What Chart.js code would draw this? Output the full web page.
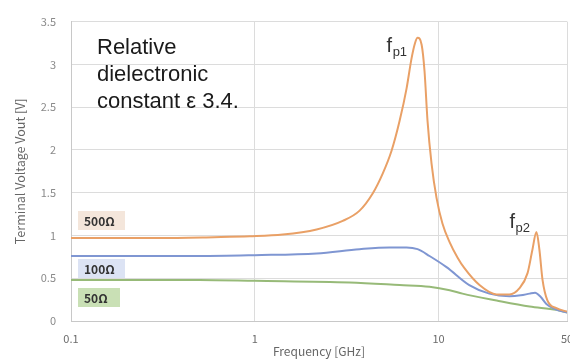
<!DOCTYPE html>
<html>
<head>
<meta charset="utf-8">
<script src="https://cdn.jsdelivr.net/npm/chart.js@4.4.1/dist/chart.umd.min.js"></script>
<style>
  html, body { margin: 0; padding: 0; background: #ffffff; overflow: hidden; }
  #wrap { width: 570px; height: 363px; }
</style>
</head>
<body>
<div id="wrap"><canvas id="c" width="570" height="363"></canvas></div>
<script>
// ---- data ----
const xTickValues = [0.1, 1, 10, 50];
const yTickValues = [0, 0.5, 1, 1.5, 2, 2.5, 3, 3.5];

const seriesNames = ['500\u03A9', '100\u03A9', '50\u03A9'];

const freq500 = [0.1, 0.3, 0.6, 0.94, 1.42, 2.17, 3.01, 3.72, 4.38, 4.96, 5.55, 6.14, 6.70, 7.13, 7.45, 7.69, 8.09, 8.39, 8.71, 9.16, 9.75, 10.5, 11.5, 12.7, 13.8, 16.7, 20.7, 24.3, 27.5, 30.5, 32.4, 34.1, 35.4, 36.8, 39.1, 43.8, 50];
const volt500 = [0.97, 0.97, 0.98, 0.99, 1.01, 1.07, 1.17, 1.29, 1.49, 1.72, 1.99, 2.34, 2.72, 3.07, 3.25, 3.31, 3.23, 2.92, 2.34, 1.84, 1.44, 1.14, 0.92, 0.74, 0.62, 0.42, 0.31, 0.31, 0.38, 0.56, 0.83, 1.04, 0.83, 0.48, 0.24, 0.15, 0.11];

const freq100 = [0.1, 0.5, 1, 2.17, 3.72, 5.4, 6.7, 7.69, 8.93, 11.05, 14.7, 18.9, 24.3, 28, 31.3, 33.5, 36, 38.6, 43, 50];
const volt100 = [0.76, 0.76, 0.77, 0.79, 0.84, 0.86, 0.86, 0.84, 0.76, 0.63, 0.42, 0.32, 0.29, 0.30, 0.32, 0.33, 0.28, 0.20, 0.14, 0.10];

const freq50 = [0.1, 0.5, 1, 3.28, 6.14, 8.93, 11.5, 13.5, 20.7, 31.3, 43.8, 50];
const volt50 = [0.48, 0.48, 0.47, 0.45, 0.42, 0.40, 0.36, 0.32, 0.24, 0.17, 0.13, 0.10];

const peakLabels = [
  { sub: 'p1', f: 7.69, v: 3.31 },
  { sub: 'p2', f: 34.1, v: 1.04 }
];
const noteLines = ['Relative', 'dielectronic', 'constant \u03B5 3.4.'];

// ---- build ----
function pts(xs, ys) { return xs.map((x, i) => ({ x: x, y: ys[i] })); }

const lineColors = ['#E9A066', '#7F96D2', '#97BA78'];
const boxFills = ['#F4E6DB', '#DCE3F4', '#C9E0B5'];

const annotPlugin = {
  id: 'annot',
  afterDatasetsDraw(chart) {
    const ctx = chart.ctx;
    const xs = chart.scales.x, ys = chart.scales.y;
    ctx.save();
    // note text
    ctx.fillStyle = '#1a1a1a';
    ctx.font = '22px "Liberation Sans", Arial, sans-serif';
    ctx.textBaseline = 'alphabetic';
    ctx.textAlign = 'left';
    noteLines.forEach((t, i) => ctx.fillText(t, 97, 54 + i * 27));

    // peak labels f_p1, f_p2
    const offs = [{ dx: -31, dy: 14 }, { dx: -27, dy: -4 }];
    peakLabels.forEach((p, i) => {
      const px = xs.getPixelForValue(p.f) + offs[i].dx;
      const py = ys.getPixelForValue(p.v) + offs[i].dy;
      ctx.fillStyle = '#333333';
      ctx.font = '20px "Liberation Sans", Arial, sans-serif';
      ctx.fillText('f', px, py);
      const fw = ctx.measureText('f').width;
      ctx.font = '13px "Liberation Sans", Arial, sans-serif';
      ctx.fillText(p.sub, px + fw + 0.5, py + 4);
    });

    // series label boxes
    const boxes = [
      { y: 211, w: 47, h: 19 },
      { y: 259, w: 47, h: 19 },
      { y: 288, w: 42, h: 19 }
    ];
    boxes.forEach((b, i) => {
      ctx.fillStyle = boxFills[i];
      ctx.fillRect(78, b.y, b.w, b.h);
      ctx.fillStyle = '#333333';
      ctx.font = 'bold 12px "Noto Sans CJK JP", "Noto Sans", sans-serif';
      ctx.textAlign = 'left';
      ctx.textBaseline = 'middle';
      ctx.fillText(seriesNames[i], 84, b.y + b.h / 2 + 1);
    });
    ctx.restore();
  }
};

new Chart(document.getElementById('c'), {
  type: 'line',
  data: {
    datasets: [
      { label: seriesNames[0], data: pts(freq500, volt500), borderColor: lineColors[0] },
      { label: seriesNames[1], data: pts(freq100, volt100), borderColor: lineColors[1] },
      { label: seriesNames[2], data: pts(freq50, volt50), borderColor: lineColors[2] }
    ].map(d => Object.assign(d, {
      borderWidth: 2, pointRadius: 0, fill: false, cubicInterpolationMode: 'monotone'
    }))
  },
  options: {
    responsive: false,
    animation: false,
    layout: { padding: { top: 20, left: 0, right: 3, bottom: 0 } },
    plugins: { legend: { display: false }, tooltip: { enabled: false } },
    scales: {
      x: {
        type: 'logarithmic',
        min: 0.1, max: 50,
        afterBuildTicks(s) { s.ticks = xTickValues.map(v => ({ value: v })); },
        afterFit(s) { s.height = 42; s.paddingRight = 3; },
        ticks: {
          callback: v => String(v),
          color: '#6b6b6b', padding: 11, maxRotation: 0, autoSkip: false,
          font: { family: '"Noto Sans CJK JP", "Noto Sans", sans-serif', size: 11 }
        },
        grid: { color: '#dcdcdc', lineWidth: 1, drawTicks: false },
        border: { color: '#c8c8c8' },
        title: {
          display: true, text: 'Frequency [GHz]', color: '#666666',
          font: { family: '"Noto Sans CJK JP", "Noto Sans", sans-serif', size: 12 },
          padding: { top: 0, bottom: 4 }
        }
      },
      y: {
        min: 0, max: 3.5,
        afterBuildTicks(s) { s.ticks = yTickValues.map(v => ({ value: v })); },
        afterFit(s) { s.width = 71; },
        ticks: {
          callback: v => String(v),
          color: '#8a8a8a', padding: 15,
          font: { family: '"Noto Sans CJK JP", "Noto Sans", sans-serif', size: 11 }
        },
        grid: { color: '#dcdcdc', lineWidth: 1, drawTicks: false },
        border: { color: '#c8c8c8' },
        title: {
          display: true, text: 'Terminal Voltage Vout [V]', color: '#666666',
          font: { family: '"Noto Sans CJK JP", "Noto Sans", sans-serif', size: 12.5 },
          padding: { top: 13, bottom: 0 }
        }
      }
    }
  },
  plugins: [annotPlugin]
});
</script>
</body>
</html>
